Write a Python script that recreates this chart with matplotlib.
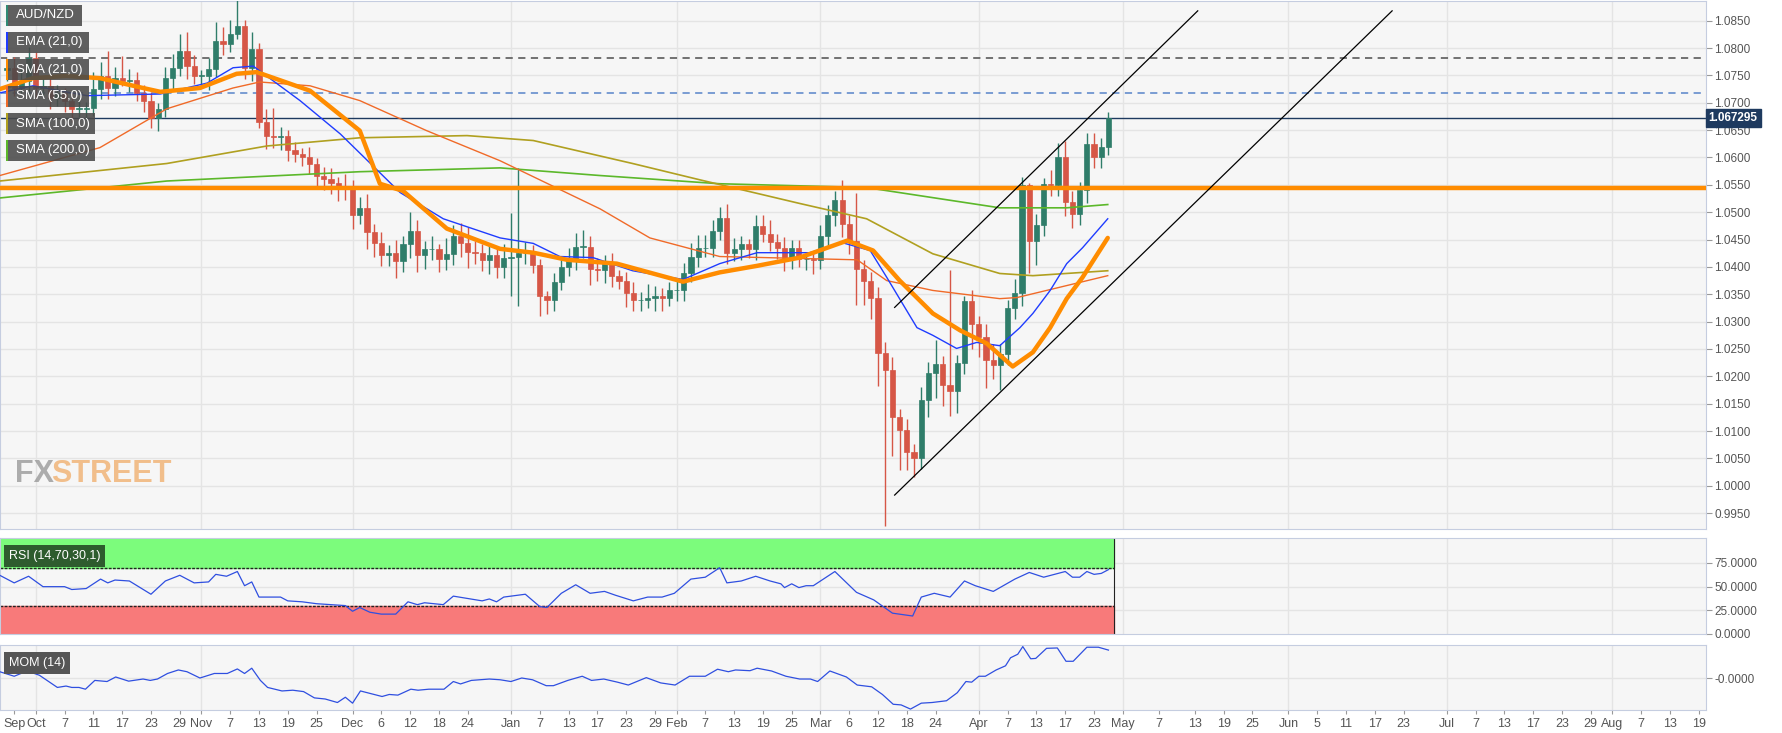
import numpy as np
import matplotlib
matplotlib.use("Agg")
import matplotlib.pyplot as plt
from matplotlib.patches import Rectangle

plt.rcParams["font.family"] = "Liberation Sans"

# ---------------- data ----------------
first_open = 1.0760
closes = [1.0764,1.0727,1.0740,1.0782,1.0727,1.0731,1.0709,1.0717,1.0704,1.0689,
          1.0689,1.0691,1.0726,1.0749,1.0727,1.0746,1.0740,1.0742,1.0718,1.0704,
          1.0673,1.0689,1.0746,1.0764,1.0795,1.0768,1.0749,1.0749,1.0762,1.0813,
          1.0808,1.0826,1.0841,1.0764,1.0799,1.0664,1.0640,1.0638,1.0640,1.0613,
          1.0607,1.0600,1.0589,1.0567,1.0561,1.0554,1.0545,1.0543,1.0494,1.0508,
          1.0463,1.0443,1.0421,1.0425,1.0410,1.0441,1.0465,1.0421,1.0432,1.0432,
          1.0415,1.0423,1.0456,1.0443,1.0428,1.0426,1.0412,1.0421,1.0399,1.0417,
          1.0419,1.0425,1.0425,1.0404,1.0346,1.0339,1.0373,1.0399,1.0415,1.0437,
          1.0437,1.0397,1.0395,1.0406,1.0384,1.0375,1.0352,1.0339,1.0339,1.0344,
          1.0346,1.0344,1.0357,1.0357,1.0388,1.0419,1.0434,1.0434,1.0465,1.0490,
          1.0425,1.0432,1.0441,1.0432,1.0474,1.0461,1.0445,1.0435,1.0417,1.0435,
          1.0414,1.0414,1.0412,1.0457,1.0494,1.0523,1.0479,1.0448,1.0397,1.0375,
          1.0344,1.0242,1.0211,1.0125,1.0102,1.0061,1.0050,1.0156,1.0206,1.0222,
          1.0185,1.0173,1.0224,1.0337,1.0295,1.0271,1.0229,1.0220,1.0240,1.0324,
          1.0353,1.0549,1.0448,1.0477,1.0552,1.0550,1.0601,1.0518,1.0497,1.0541,
          1.0625,1.0601,1.0620,1.0673]
wick_up_pips = [15,20,25,20,10,15,20,15,10,15,
                20,10,30,25,45,20,40,20,15,15,
                15,10,20,25,30,35,20,10,20,35,
                25,25,55,10,30,10,25,50,15,10,
                15,10,20,10,15,20,10,25,15,20,
                25,15,20,15,25,15,35,20,15,25,
                10,30,20,25,30,20,15,20,15,25,
                80,155,20,15,10,10,15,20,20,25,
                30,20,20,15,20,10,15,20,15,25,
                20,15,15,20,20,25,25,25,20,20,
                25,20,15,10,20,20,25,15,20,15,
                15,10,15,20,20,15,35,15,88,15,
                15,20,20,25,15,20,15,25,20,45,
                15,210,15,10,20,15,25,30,20,15,
                25,15,5,20,10,25,25,30,20,15,
                20,20,15,10]
wick_dn_pips = [20,15,10,25,20,15,20,15,20,25,
                15,20,15,20,20,15,10,20,15,20,
                20,25,15,20,15,25,15,20,25,15,
                20,15,10,20,25,10,25,20,25,20,
                15,15,20,25,20,20,25,20,25,15,
                30,25,20,20,30,20,25,30,25,20,
                25,20,20,25,30,20,20,25,20,20,
                70,90,20,15,35,25,20,15,15,20,
                20,30,20,25,20,15,25,20,20,15,
                25,25,15,20,20,15,20,15,15,15,
                20,15,20,15,20,15,15,20,25,20,
                15,20,25,15,20,20,25,25,66,45,
                40,60,285,70,74,33,34,20,30,45,
                40,45,40,20,45,35,50,25,45,20,
                20,25,60,45,20,20,20,25,25,20,
                25,20,20,15]

ema21_idx = [-1,3.6,11.1,21.3,27.8,31.4,34.2,40.7,46.3,54.6,60.6,68.5,73.1,76.8,81.4,86.9,93.9,99,104.2,111.5,116.1,119.9,122.2,126.4,128.6,131.9,134.7,137.9,140.7,142.5,144.9,147.2,149.4,152.9]
ema21_val = [1.0718,1.0731,1.0713,1.0716,1.0736,1.0764,1.0767,1.0704,1.0643,1.0536,1.0488,1.0453,1.0443,1.0419,1.0417,1.0393,1.0377,1.0406,1.0426,1.0426,1.0444,1.0430,1.0381,1.0289,1.0275,1.0251,1.0262,1.0256,1.0289,1.0315,1.0357,1.0406,1.0435,1.0488]
sma21_idx = [-1,3.6,8.3,12.9,18.9,21.3,26.8,31.9,34.7,42.1,49,51.8,55,61.1,68.5,73.1,77.8,84.7,93.9,99,104.2,110.1,116.7,120.3,124,128.6,132.4,136.1,139.7,142.5,144.9,147.2,149.4,152.9]
sma21_val = [1.0725,1.0745,1.0749,1.0745,1.0727,1.0720,1.0727,1.0753,1.0756,1.0722,1.0649,1.0552,1.0539,1.0470,1.0433,1.0426,1.0413,1.0406,1.0373,1.0390,1.0402,1.0417,1.0448,1.0430,1.0375,1.0315,1.0284,1.0260,1.0218,1.0244,1.0289,1.0342,1.0381,1.0453]
sma55_idx = [-1,12.9,22.2,31.4,35.1,42.1,49,58.3,68.5,82.4,89.3,99,118.1,122.2,128.6,137.9,140.3,152.9]
sma55_val = [1.0567,1.0618,1.0689,1.0727,1.0738,1.0731,1.0704,1.0649,1.0594,1.0506,1.0453,1.0419,1.0413,1.0375,1.0357,1.0342,1.0344,1.0384]
sma100_idx = [-1,22.2,36.1,49,63.9,73.1,86.9,96.3,110.1,119.4,128.6,137.9,142.5,152.9]
sma100_val = [1.0557,1.0589,1.0621,1.0636,1.0640,1.0631,1.0589,1.0559,1.0516,1.0488,1.0424,1.0388,1.0384,1.0393]
sma200_idx = [-1,22.2,49,68.5,82.4,99,119.4,137.9,147.2,152.9]
sma200_val = [1.0526,1.0557,1.0574,1.0581,1.0567,1.0552,1.0545,1.0508,1.0508,1.0514]

rsi_idx = [-1,1,3,5,8,9,11,13,14,15,17,20,22,24,26,28,29,30.5,32,33,34,35,38,39,41,43,47,48,49,50.4,52,54,55.7,57,58,60.6,62,66,67,68,69,72,74,75,77,79,81,83,84.5,87,89,91,92.7,95,97,99,100,102,104,106,107.5,108,109,110,111,112,115,118,120.4,121.7,123,125.8,127,128.8,131,133,134.5,137,140,142,144,146,147,148,149,150,151,152,153]
rsi_val = [62,54,61,50,50,47,48,58,54,57,56,42,56,62,54,55,63,61,66,51,55,39,39,35,34,32,30,24,28,23,21,21,34,31,33,31,40,35,37,34,39,42,29,28,43,52,43,45,41,35,39,39,43,58,60,70,54,56,61,56,53,49,53,49,51,51,66,44,36,29,22,19,39,43,39,56,51,45,58,65,60,64,66,60,60,66,63,64,68]

mom_idx = [-1,1,2.8,4.5,7,8.2,9,10,10.9,12.2,13.9,15.1,16.9,18.9,19.9,20.9,22.3,23.8,25,26.8,28.8,30.6,32,33,34,35.2,36.2,38.2,39.7,41.2,42.7,44.2,45.9,47,48,49.1,50.6,52.1,53.1,54.3,56.1,57.1,58.6,60.7,62,63,64.5,67,68.5,70,71.5,73,74.9,75.9,77.9,79.9,81.2,82.9,84.8,86.3,88.8,90.8,92.8,94.8,97,98.7,100.2,101.2,103.2,104.2,106.2,108.2,110.1,111.6,112.6,114.3,116.6,118.1,120.1,121.6,123.1,124.2,125.5,127,128.5,130.5,132,133.2,134,135,135.9,137.4,138.7,139.4,140.4,141.1,142.2,142.9,144.4,145.9,147.1,148.1,150,151.6,153]
mom_val = [0.0068,0.0019,0.0076,0.003,-0.0102,-0.0087,-0.0102,-0.0102,-0.0121,-0.0026,-0.0038,0.0011,-0.0034,-0.0011,-0.0026,-0.0011,0.0049,0.0087,0.0068,0.0,0.0049,0.0049,0.0098,0.0049,0.0106,-0.0026,-0.0102,-0.014,-0.0132,-0.0147,-0.0215,-0.0227,-0.0265,-0.0208,-0.0272,-0.014,-0.017,-0.02,-0.0178,-0.0185,-0.0121,-0.0132,-0.0121,-0.0121,-0.0038,-0.0064,-0.0026,-0.0011,-0.0019,-0.0038,0.0,-0.0019,-0.0083,-0.0083,-0.0026,0.0019,-0.0026,-0.0011,-0.0045,-0.0076,0.0004,-0.0053,-0.0076,0.0019,0.0019,0.0095,0.0068,0.0087,0.0079,0.0106,0.0076,0.0019,-0.0011,-0.0011,-0.0038,0.0076,0.0011,-0.0076,-0.0095,-0.0178,-0.0284,-0.0291,-0.0336,-0.0272,-0.0265,-0.0246,-0.0159,-0.0038,-0.0045,0.0019,0.0019,0.0087,0.0132,0.0219,0.0257,0.034,0.0208,0.0212,0.0321,0.0325,0.0181,0.0181,0.0333,0.0333,0.0302]

support_level = 1.0545
dash_black_level = 1.0782
dash_blue_level = 1.0718
last_price = 1.067295
channel_upper = ([123.3, 165.4], [1.0326, 1.0868])
channel_lower = ([123.3, 192.4], [0.9983, 1.0868])

tick_pos = [1,4,8,12,16,20,24,27,31,35,39,43,48,52,56,60,64,70,74,78,82,86,90,93,97,101,105,109,113,117,121,125,129,135,139,143,147,151,155,160,165,169,173,178,182,186,190,194,200,204,208,212,216,220,223,227,231,235]
tick_lab = ["Sep","Oct","7","11","17","23","29","Nov","7","13","19","25","Dec","6","12","18","24","Jan","7","13","17","23","29","Feb","7","13","19","25","Mar","6","12","18","24","Apr","7","13","17","23","May","7","13","19","25","Jun","5","11","17","23","Jul","7","13","17","23","29","Aug","7","13","19"]
month_labels = {"Oct","Nov","Dec","Jan","Feb","Mar","Apr","May","Jun","Jul","Aug"}

legend_labels = ["AUD/NZD", "EMA (21,0)", "SMA (21,0)", "SMA (55,0)", "SMA (100,0)", "SMA (200,0)"]
legend_colors = ["#2f8a74", "#1f3cff", "#ff8c00", "#f06a28", "#b0a020", "#5cb82a"]
legend_widths = [76, 83, 83, 83, 89, 89]

# ---------------- figure ----------------
W, H = 1783, 733
fig = plt.figure(figsize=(W/100, H/100), dpi=100)
fig.patch.set_facecolor("white")
def fr(top, bottom):
    return [0.0, 1 - bottom/H, 1706/W, (bottom-top)/H]
ax = fig.add_axes(fr(1, 529))
axr = fig.add_axes(fr(538, 634), sharex=ax)
axm = fig.add_axes(fr(645, 710), sharex=ax)

bg = "#f6f6f6"; grid = "#e4e4e4"; spine = "#c5cde0"; tcol = "#555555"
for a in (ax, axr, axm):
    a.set_facecolor(bg)
    for s in a.spines.values():
        s.set_color(spine)
    a.yaxis.tick_right()
    a.tick_params(axis="y", colors=tcol, labelsize=8.5, length=4, color="#999999", pad=2)
    a.tick_params(axis="x", length=0, labelbottom=False)
    for tp, tl in zip(tick_pos, tick_lab):
        if tl in month_labels:
            a.axvline(tp, color=grid, lw=1, zorder=0)

x = np.arange(len(closes))
c = np.array(closes)
o = np.concatenate([[first_open], c[:-1]])
hi = np.maximum(o, c) + np.array(wick_up_pips)*0.0001
lo = np.minimum(o, c) - np.array(wick_dn_pips)*0.0001
green = "#2f7d6a"; red = "#d65646"
cols = np.where(c >= o, green, red)

ax.set_xlim(-0.97, 236)
ax.set_ylim(0.9921, 1.0886)
yt = np.arange(0.9950, 1.08501, 0.005)
ax.set_yticks(yt)
ax.set_yticklabels([f"{v:.4f}" for v in yt])
for v in yt:
    ax.axhline(v, color=grid, lw=1, zorder=0)

ax.vlines(x, lo, hi, colors=cols, lw=1, zorder=3)
body = np.maximum(np.abs(c - o), 0.00012)
ax.bar(x, body, bottom=np.minimum(o, c), width=0.72, color=cols, edgecolor=cols, lw=0.5, zorder=4)

ax.plot(sma200_idx, sma200_val, color="#5cb82a", lw=1.2, zorder=5)
ax.plot(sma100_idx, sma100_val, color="#b0a020", lw=1.2, zorder=5)
ax.plot(sma55_idx, sma55_val, color="#f06a28", lw=1.0, zorder=5)
ax.plot(ema21_idx, ema21_val, color="#1f3cff", lw=1.0, zorder=5)
ax.plot(sma21_idx, sma21_val, color="#ff8c00", lw=3.2, zorder=6, solid_capstyle="round")

ax.axhline(support_level, color="#ff8c00", lw=3.2, zorder=6)
ax.axhline(dash_black_level, color="#666666", lw=1.3, ls=(0, (4, 3)), zorder=2)
ax.axhline(dash_blue_level, color="#6f95d0", lw=1.3, ls=(0, (4, 3)), zorder=2)
ax.axhline(last_price, color="#1e3a5f", lw=1.0, zorder=2)
ax.plot(*channel_upper, color="black", lw=0.9, zorder=7)
ax.plot(*channel_lower, color="black", lw=0.9, zorder=7)

ax.text(1.0015, last_price, f"{last_price:.6f}", transform=ax.get_yaxis_transform(),
        va="center", ha="left", fontsize=8.5, color="white", fontweight="bold",
        bbox=dict(boxstyle="square,pad=0.25", fc="#1e3a5f", ec="#1e3a5f"), zorder=10, clip_on=False)

# legend boxes
for k, (lab, col, wpx) in enumerate(zip(legend_labels, legend_colors, legend_widths)):
    ytop = 5 + 27*k
    yb = 1 - (ytop + 21)/H
    fig.patches.append(Rectangle((6/W, yb), wpx/W, 21/H, transform=fig.transFigure,
                                 fc="#4a4a4a", alpha=0.88, ec="none", zorder=20))
    fig.patches.append(Rectangle((6/W, yb), 2/W, 21/H, transform=fig.transFigure,
                                 fc=col, ec="none", zorder=21))
    fig.text(16/W, yb + 10.5/H, lab, color="white", fontsize=9.5, va="center", ha="left", zorder=22)

# watermark
ax.text(0.009, 0.105, "FX", transform=ax.transAxes, fontsize=22, color="#9a9a9a",
        fontweight="bold", alpha=0.8, va="center")
ax.text(0.030, 0.105, "STREET", transform=ax.transAxes, fontsize=22, color="#f0b070",
        fontweight="bold", alpha=0.8, va="center")

# RSI
axr.set_ylim(0, 101.4)
axr.set_yticks([0, 25, 50, 75])
axr.set_yticklabels(["0.0000", "25.0000", "50.0000", "75.0000"])
for v in (25, 50, 75):
    axr.axhline(v, color=grid, lw=1, zorder=0)
xf = [-0.97, len(closes) - 0.3]
axr.fill_between(xf, 70, 100, color="#7cfc7c", zorder=1)
axr.fill_between(xf, 0, 30, color="#f87a7a", zorder=1)
axr.plot(xf, [70, 70], color="#222222", lw=1, ls=(0, (2, 1)), zorder=2)
axr.plot(xf, [30, 30], color="#222222", lw=1, ls=(0, (2, 1)), zorder=2)
axr.plot([xf[1], xf[1]], [0, 100], color="#222222", lw=0.8, zorder=2)
axr.plot(rsi_idx, rsi_val, color="#2f4fe0", lw=0.9, zorder=3)
axr.text(0.005, 0.81, "RSI (14,70,30,1)", transform=axr.transAxes, fontsize=9, color="white",
         va="center", ha="left", bbox=dict(boxstyle="square,pad=0.4", fc="#2e5c2e", ec="none"), zorder=5)

# MOM
axm.set_ylim(-0.0346, 0.0357)
axm.set_yticks([0])
axm.set_yticklabels(["-0.0000"])
axm.axhline(0, color=grid, lw=1, zorder=0)
axm.plot(mom_idx, mom_val, color="#2f4fe0", lw=0.9, zorder=3)
axm.text(0.005, 0.72, "MOM (14)", transform=axm.transAxes, fontsize=9, color="white",
         va="center", ha="left", bbox=dict(boxstyle="square,pad=0.4", fc="#555555", ec="none"), zorder=5)

axm.set_xticks(tick_pos)
axm.set_xticklabels(tick_lab)
axm.tick_params(axis="x", labelbottom=True, length=3, colors=tcol, labelsize=9, color="#999999", pad=3)

fig.savefig("out.png", dpi=100, facecolor="white")
